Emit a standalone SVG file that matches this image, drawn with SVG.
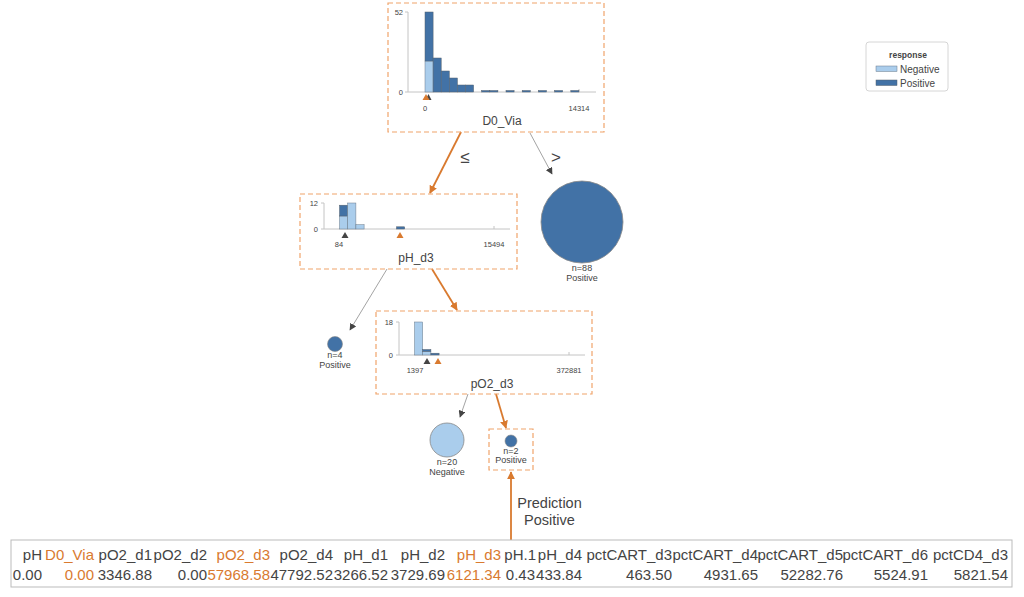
<svg xmlns="http://www.w3.org/2000/svg" width="1024" height="597" viewBox="0 0 1024 597">
<defs>
<style>
text{font-family:"Liberation Sans",Arial,sans-serif;fill:#444}
.box{fill:none;stroke:#f0a46b;stroke-width:1.2;stroke-dasharray:5,3}
.ax{stroke:#c4c4c4;stroke-width:1;fill:none}
.neg{fill:#aacdec;stroke:#6a7a8a;stroke-width:0.5}
.pos{fill:#4272a6;stroke:#55606c;stroke-width:0.5}
.tk{font-size:7.5px}
.lbl{font-size:12px;text-anchor:middle}
.leaf{font-size:9px;text-anchor:middle}
.eg{stroke:#999;stroke-width:0.9;fill:none}
.eo{stroke:#d97a2f;stroke-width:1.8;fill:none}
.th{font-size:15px;text-anchor:end}
.hl{fill:#d97a2f}
</style>
<marker id="ag" viewBox="0 0 10 10" refX="9" refY="5" markerWidth="7" markerHeight="7" orient="auto" markerUnits="userSpaceOnUse"><path d="M0,0 L10,5 L0,10 z" fill="#444"/></marker>
<marker id="ao" viewBox="0 0 10 10" refX="9" refY="5" markerWidth="8" markerHeight="8" orient="auto" markerUnits="userSpaceOnUse"><path d="M0,0 L10,5 L0,10 z" fill="#d97a2f"/></marker>
</defs>
<rect width="1024" height="597" fill="#fff"/>

<g id="connectors">
<line class="eo" x1="461" y1="132" x2="430" y2="193" marker-end="url(#ao)"/>
<line class="eg" x1="530" y1="133" x2="552" y2="174" marker-end="url(#ag)"/>
<text x="465" y="163" style="font-size:17px" text-anchor="middle">≤</text>
<text x="556" y="163" style="font-size:17px" text-anchor="middle">&gt;</text>
<line class="eg" x1="387" y1="269" x2="350" y2="330" marker-end="url(#ag)"/>
<line class="eo" x1="432" y1="269" x2="457" y2="310" marker-end="url(#ao)"/>
<line class="eg" x1="468" y1="394" x2="460" y2="417" marker-end="url(#ag)"/>
<line class="eo" x1="496" y1="394" x2="506" y2="428" marker-end="url(#ao)"/>
<line class="eo" x1="511" y1="540" x2="511" y2="472" marker-end="url(#ao)"/>
<text x="549.5" y="508" style="font-size:14.5px" text-anchor="middle" fill="#555">Prediction</text>
<text x="549.5" y="525" style="font-size:14.5px" text-anchor="middle" fill="#555">Positive</text>
</g>

<g id="node-D0_Via">
<rect class="box" x="388" y="3" width="216" height="129"/>
<path class="ax" d="M408,12 V92 M405,12 H408 M405,92 H408 M408,92 H596 M579,92 V89"/>
<text class="tk" x="403" y="14.5" text-anchor="end">52</text>
<text class="tk" x="403" y="94.5" text-anchor="end">0</text>
<rect class="neg" x="425" y="61" width="8.1" height="31"/>
<rect class="pos" x="425" y="12" width="8.1" height="49"/>
<rect class="pos" x="433.1" y="58" width="8.1" height="34"/>
<rect class="pos" x="441.2" y="71" width="8.1" height="21"/>
<rect class="pos" x="449.3" y="78" width="8.1" height="14"/>
<rect class="pos" x="457.4" y="85" width="8.1" height="7"/>
<rect class="pos" x="465.5" y="85" width="8.1" height="7"/>
<rect class="pos" x="481.7" y="90.5" width="8.1" height="1.5"/>
<rect class="pos" x="489.8" y="90.5" width="8.1" height="1.5"/>
<rect class="pos" x="506" y="90.5" width="8.1" height="1.5"/>
<rect class="pos" x="522.2" y="90.5" width="8.1" height="1.5"/>
<rect class="pos" x="538.4" y="90.5" width="8.1" height="1.5"/>
<rect class="pos" x="554.6" y="90.5" width="8.1" height="1.5"/>
<rect class="pos" x="570.8" y="90.5" width="8.1" height="1.5"/>
<path d="M428.5,94 L431.5,100 L425.5,100 z" fill="#444"/>
<path d="M426,94 L429.5,100 L422.5,100 z" fill="#d97a2f"/>
<text class="tk" x="425" y="110.5" text-anchor="middle">0</text>
<text class="tk" x="579" y="110.5" text-anchor="middle">14314</text>
<text class="lbl" x="502" y="125">D0_Via</text>
</g>

<g id="node-pH_d3">
<rect class="box" x="300" y="194" width="217" height="75"/>
<path class="ax" d="M324,203 V229 M321,203 H324 M321,229 H324 M324,229 H510 M494,229 V226"/>
<text class="tk" x="318" y="205.5" text-anchor="end">12</text>
<text class="tk" x="318" y="231.5" text-anchor="end">0</text>
<rect class="neg" x="339.5" y="216" width="8.2" height="13"/>
<rect class="pos" x="339.5" y="205.2" width="8.2" height="10.8"/>
<rect class="neg" x="347.7" y="203" width="8.2" height="26"/>
<rect class="neg" x="355.9" y="224.7" width="8.2" height="4.3"/>
<rect class="pos" x="396.5" y="226.8" width="8.2" height="2.2"/>
<path d="M345,232 L348.5,238 L341.5,238 z" fill="#444"/>
<path d="M400,232 L403.5,238 L396.5,238 z" fill="#d97a2f"/>
<text class="tk" x="339" y="247" text-anchor="middle">84</text>
<text class="tk" x="494" y="247" text-anchor="middle">15494</text>
<text class="lbl" x="416" y="262">pH_d3</text>
</g>

<g id="node-pO2_d3">
<rect class="box" x="376" y="311" width="216" height="83"/>
<path class="ax" d="M399,322 V355 M396,322 H399 M396,355 H399 M399,355 H585 M569,355 V352"/>
<text class="tk" x="393" y="324.5" text-anchor="end">18</text>
<text class="tk" x="393" y="357.5" text-anchor="end">0</text>
<rect class="neg" x="414.5" y="322" width="8.2" height="33"/>
<rect class="neg" x="422.7" y="351.3" width="8.2" height="3.7"/>
<rect class="pos" x="422.7" y="349.5" width="8.2" height="1.8"/>
<rect class="pos" x="430.9" y="353.2" width="8.2" height="1.8"/>
<path d="M427,358 L430.5,364 L423.5,364 z" fill="#444"/>
<path d="M438,358 L441.5,364 L434.5,364 z" fill="#d97a2f"/>
<text class="tk" x="415" y="373" text-anchor="middle">1397</text>
<text class="tk" x="569" y="373" text-anchor="middle">372881</text>
<text class="lbl" x="492" y="388">pO2_d3</text>
</g>

<g id="leaf-n88">
<circle cx="582" cy="222" r="41" fill="#4272a6" stroke="#888" stroke-width="0.8"/>
<text class="leaf" x="582" y="271">n=88</text>
<text class="leaf" x="582" y="281">Positive</text>
</g>

<g id="leaf-n4">
<circle cx="335" cy="344" r="7.5" fill="#4272a6" stroke="#888" stroke-width="0.6"/>
<text class="leaf" x="335" y="358">n=4</text>
<text class="leaf" x="335" y="368">Positive</text>
</g>

<g id="leaf-n20">
<circle cx="447" cy="440" r="17" fill="#aacdec" stroke="#888" stroke-width="0.8"/>
<text class="leaf" x="447" y="465">n=20</text>
<text class="leaf" x="447" y="475">Negative</text>
</g>

<g id="leaf-n2">
<rect class="box" x="489" y="429" width="44" height="41"/>
<circle cx="511" cy="441" r="6" fill="#4272a6" stroke="#888" stroke-width="0.6"/>
<text class="leaf" x="511" y="454">n=2</text>
<text class="leaf" x="511" y="463">Positive</text>
</g>

<g id="legend">
<rect x="866" y="42" width="82" height="49" rx="3" fill="#fff" stroke="#ccc" stroke-width="0.8"/>
<text x="908" y="58" text-anchor="middle" style="font-size:8.5px;font-weight:bold">response</text>
<rect x="876" y="66" width="21" height="5.5" fill="#aacdec" stroke="#6a7a8a" stroke-width="0.5"/>
<text x="900" y="73" style="font-size:10px">Negative</text>
<rect x="876" y="80" width="21" height="5.5" fill="#4272a6" stroke="#55606c" stroke-width="0.5"/>
<text x="900" y="87" style="font-size:10px">Positive</text>
</g>

<g id="instance-table">
<rect x="11" y="540" width="1001" height="47" fill="#fff" stroke="#bbb" stroke-width="1"/>
<text class="th" x="42" y="560">pH</text>
<text class="th hl" x="94" y="560">D0_Via</text>
<text class="th" x="152" y="560">pO2_d1</text>
<text class="th" x="207" y="560">pO2_d2</text>
<text class="th hl" x="270" y="560">pO2_d3</text>
<text class="th" x="333" y="560">pO2_d4</text>
<text class="th" x="388" y="560">pH_d1</text>
<text class="th" x="445" y="560">pH_d2</text>
<text class="th hl" x="501" y="560">pH_d3</text>
<text class="th" x="536" y="560">pH.1</text>
<text class="th" x="582" y="560">pH_d4</text>
<text class="th" x="672" y="560">pctCART_d3</text>
<text class="th" x="758" y="560">pctCART_d4</text>
<text class="th" x="843" y="560">pctCART_d5</text>
<text class="th" x="928" y="560">pctCART_d6</text>
<text class="th" x="1008" y="560">pctCD4_d3</text>
<text class="th" x="42" y="580">0.00</text>
<text class="th hl" x="94" y="580">0.00</text>
<text class="th" x="152" y="580">3346.88</text>
<text class="th" x="207" y="580">0.00</text>
<text class="th hl" x="270" y="580">57968.58</text>
<text class="th" x="333" y="580">47792.52</text>
<text class="th" x="388" y="580">3266.52</text>
<text class="th" x="445" y="580">3729.69</text>
<text class="th hl" x="501" y="580">6121.34</text>
<text class="th" x="535" y="580">0.43</text>
<text class="th" x="582" y="580">433.84</text>
<text class="th" x="672" y="580">463.50</text>
<text class="th" x="758" y="580">4931.65</text>
<text class="th" x="843" y="580">52282.76</text>
<text class="th" x="928" y="580">5524.91</text>
<text class="th" x="1008" y="580">5821.54</text>
</g>
</svg>
